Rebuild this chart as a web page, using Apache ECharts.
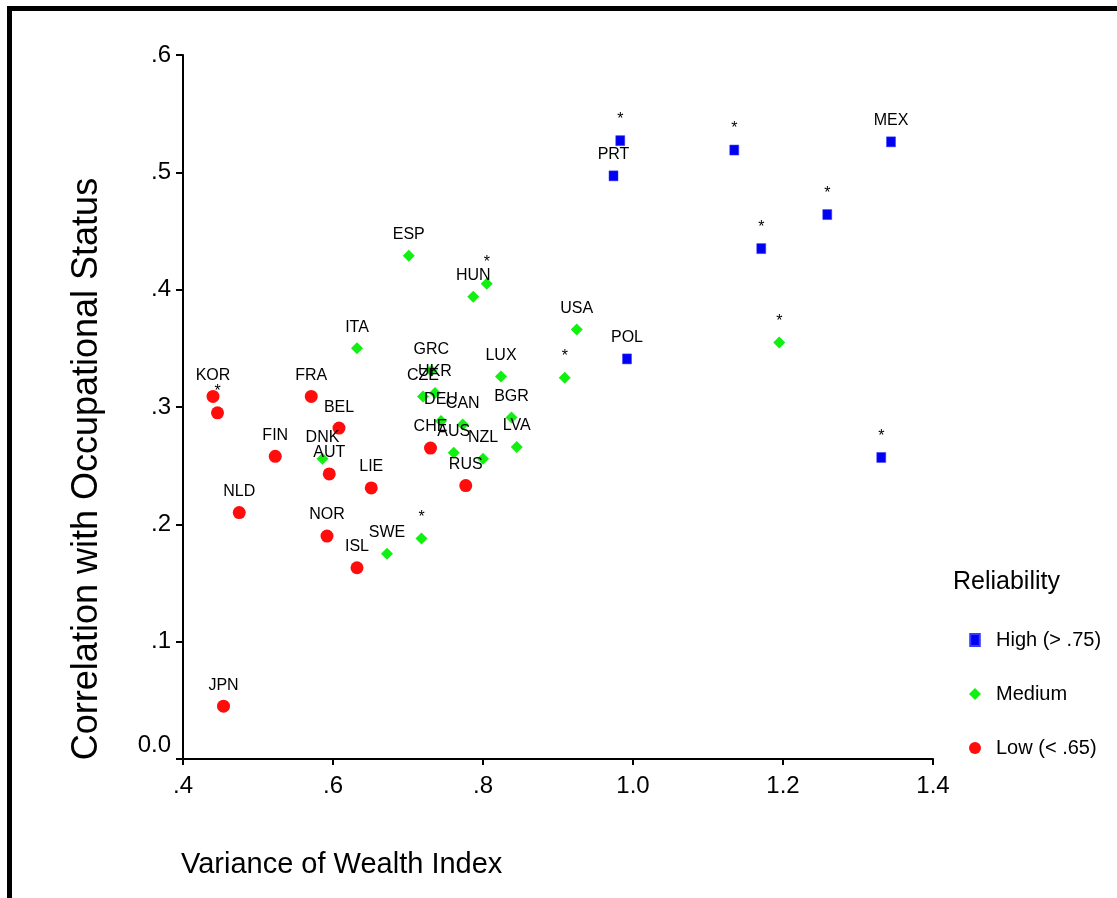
<!DOCTYPE html>
<html>
<head>
<meta charset="utf-8">
<script src="https://cdn.jsdelivr.net/npm/echarts@6/dist/echarts.min.js"></script>
<style>
html,body{margin:0;padding:0;background:#fff;overflow:hidden;}
#chart{width:1117px;height:898px;}
</style>
</head>
<body>
<div id="chart"></div>
<script>
// ---- data ----
const xTickLabels = ['.4', '.6', '.8', '1.0', '1.2', '1.4'];
const yTickLabels = ['0.0', '.1', '.2', '.3', '.4', '.5', '.6'];

const highCodes = ['*', 'PRT', '*', 'MEX', '*', '*', 'POL', '*'];
const highX = [0.983, 0.974, 1.135, 1.344, 1.259, 1.171, 0.992, 1.331];
const highY = [0.527, 0.497, 0.519, 0.526, 0.464, 0.435, 0.341, 0.257];

const medCodes = ['ESP', 'HUN', '*', 'ITA', 'USA', '*', '*', 'LUX', 'GRC', 'UKR', 'CZE',
                  'DEU', 'CAN', 'AUS', 'NZL', 'BGR', 'LVA', 'DNK', 'SWE', '*'];
const medX = [0.701, 0.787, 0.805, 0.632, 0.925, 0.909, 1.195, 0.824, 0.731, 0.736, 0.720,
              0.744, 0.773, 0.761, 0.800, 0.838, 0.845, 0.586, 0.672, 0.718];
const medY = [0.429, 0.394, 0.405, 0.350, 0.366, 0.325, 0.355, 0.326, 0.331, 0.312, 0.309,
              0.288, 0.285, 0.261, 0.256, 0.291, 0.266, 0.256, 0.175, 0.188];

const lowCodes = ['KOR', '*', 'FRA', 'BEL', 'FIN', 'AUT', 'LIE', 'NLD', 'NOR', 'ISL', 'CHE', 'RUS', 'JPN'];
const lowX = [0.440, 0.446, 0.571, 0.608, 0.523, 0.595, 0.651, 0.475, 0.592, 0.632, 0.730, 0.777, 0.454];
const lowY = [0.309, 0.295, 0.309, 0.282, 0.258, 0.243, 0.231, 0.210, 0.190, 0.163, 0.265, 0.233, 0.045];

const seriesNames = ['High (> .75)', 'Medium', 'Low (< .65)'];

// ---- build ----
function pts(xs, ys, codes) {
  return xs.map((x, i) => [x, ys[i], codes[i]]);
}
const FONT = 'Liberation Sans, Arial, Helvetica, sans-serif';
const labelCfg = {
  show: true,
  position: 'inside',
  offset: [0, -21],
  color: '#000',
  opacity: 1,
  textBorderWidth: 0,
  fontFamily: FONT,
  fontSize: 16,
  formatter: p => p.value[2]
};

const chart = echarts.init(document.getElementById('chart'), null, {renderer: 'canvas'});
chart.setOption({
  backgroundColor: '#fff',
  animation: false,
  textStyle: {fontFamily: FONT},
  graphic: [{
    type: 'rect',
    shape: {x: 9.5, y: 8.5, width: 2000, height: 2000},
    style: {fill: 'none', stroke: '#000', lineWidth: 5},
    silent: true
  }],
  title: [{
    text: 'Variance of Wealth Index',
    left: 176, top: 845,
    textStyle: {fontFamily: FONT, fontSize: 29, fontWeight: 'normal', color: '#000'}
  }, {
    text: 'Reliability',
    left: 948, top: 565,
    textStyle: {fontFamily: FONT, fontSize: 25, fontWeight: 'normal', color: '#000'}
  }],
  legend: {
    orient: 'vertical',
    left: 964, top: 625,
    itemWidth: 12, itemHeight: 12, itemGap: 34,
    symbolKeepAspect: true,
    itemStyle: {opacity: 1},
    data: [
      {name: seriesNames[0], icon: 'path://M0,0L8,0L8,10L0,10Z'},
      {name: seriesNames[1], icon: 'diamond'},
      {name: seriesNames[2], icon: 'circle'}
    ],
    textStyle: {fontFamily: FONT, fontSize: 20, color: '#000', padding: [0, 0, 0, 10], lineHeight: 18}
  },
  grid: {left: 183, right: 184, top: 55, bottom: 139},
  xAxis: {
    type: 'value', min: 0.4, max: 1.4, interval: 0.2,
    axisLine: {lineStyle: {color: '#000', width: 2}},
    axisTick: {lineStyle: {color: '#000', width: 2}, length: 6},
    splitLine: {show: false},
    axisLabel: {
      color: '#000', fontSize: 24, margin: 15, fontFamily: FONT,
      formatter: v => xTickLabels[Math.round((v - 0.4) / 0.2)]
    }
  },
  yAxis: {
    type: 'value', min: 0, max: 0.6, interval: 0.1,
    name: 'Correlation with Occupational Status',
    nameLocation: 'middle', nameRotate: 90, nameGap: 78,
    nameTextStyle: {fontFamily: FONT, fontSize: 36, color: '#000', padding: [0, 124, 0, 0]},
    axisLine: {show: true, lineStyle: {color: '#000', width: 2}},
    axisTick: {show: true, lineStyle: {color: '#000', width: 2}, length: 7},
    splitLine: {show: false},
    axisLabel: {
      color: '#000', fontSize: 24, margin: 12, fontFamily: FONT,
      formatter: v => {
        const i = Math.round(v / 0.1);
        return i === 0 ? '{z|' + yTickLabels[0] + '}' : yTickLabels[i];
      },
      rich: {z: {fontSize: 24, fontFamily: FONT, color: '#000', padding: [0, 0, 28, 0]}}
    }
  },
  series: [{
    name: seriesNames[0], type: 'scatter', symbol: 'rect', symbolSize: [9, 10],
    itemStyle: {color: '#0000f2', borderColor: '#3a3aff', borderWidth: 0.5, opacity: 1},
    label: labelCfg,
    data: pts(highX, highY, highCodes)
  }, {
    name: seriesNames[1], type: 'scatter', symbol: 'diamond', symbolSize: 12,
    itemStyle: {color: '#11f011', opacity: 1},
    label: labelCfg,
    data: pts(medX, medY, medCodes)
  }, {
    name: seriesNames[2], type: 'scatter', symbol: 'circle', symbolSize: 13,
    itemStyle: {color: '#ff0d0d', opacity: 1},
    label: labelCfg,
    data: pts(lowX, lowY, lowCodes)
  }]
});
</script>
</body>
</html>
